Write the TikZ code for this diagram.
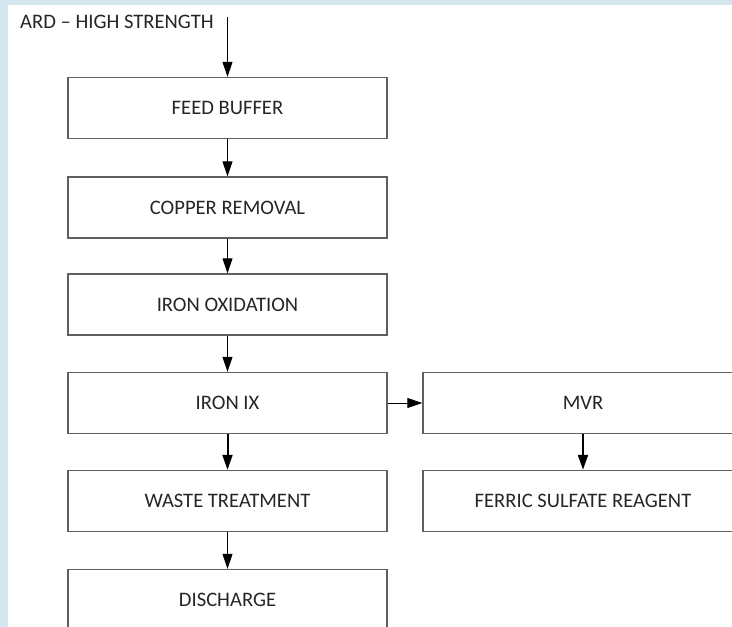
\documentclass[tikz,border=0pt]{standalone}
\usepackage{fontspec}
\setmainfont{Carlito}
\usetikzlibrary{arrows.meta}
\definecolor{bgblue}{RGB}{212,230,238}
\definecolor{boxline}{RGB}{95,95,95}
\definecolor{txt}{RGB}{38,38,38}
\begin{document}
\begin{tikzpicture}[x=1bp,y=-1bp,
  procbox/.style={draw=boxline,line width=1.4bp,fill=white,minimum width=319bp,minimum height=61bp,inner sep=0pt,text=txt,font=\fontsize{20.6bp}{24bp}\selectfont},
  flow/.style={line width=1bp,-{Triangle[length=15bp,width=10bp]}},
  flowthick/.style={line width=2bp,-{Triangle[length=15bp,width=10bp]}}
]
\useasboundingbox (0,0) rectangle (732,627);
\clip (0,0) rectangle (732,627);
\fill[bgblue] (0,0) rectangle (732,627);
\fill[white] (8,5) rectangle (732,627);

\node[anchor=base west,inner sep=0pt,text=txt,font=\fontsize{20.6bp}{24bp}\selectfont] (ard) at (20,29) {ARD – HIGH STRENGTH};
\coordinate (feedin) at (227.5,17);

\node[procbox] (feed) at (227.5,108) {FEED BUFFER};
\node[procbox] (copper) at (227.5,207.5) {COPPER REMOVAL};
\node[procbox] (oxid) at (227.5,304.5) {IRON OXIDATION};
\node[procbox] (ix) at (227.5,403) {IRON IX};
\node[procbox] (waste) at (227.5,501) {WASTE TREATMENT};
\node[procbox] (disch) at (227.5,600) {DISCHARGE};
\node[procbox,minimum width=320bp] (mvr) at (583,403) {MVR};
\node[procbox,minimum width=320bp] (ferric) at (583,501) {FERRIC SULFATE REAGENT};

\draw[flow] (feedin) -- (feed.north);
\draw[flow] (feed) -- (copper);
\draw[flow] (copper) -- (oxid);
\draw[flow] (oxid) -- (ix);
\draw[flowthick] (ix) -- (waste);
\draw[flow] (waste) -- (disch);
\draw[flow] (ix) -- (mvr);
\draw[flowthick] (mvr) -- (ferric);
\end{tikzpicture}
\end{document}
